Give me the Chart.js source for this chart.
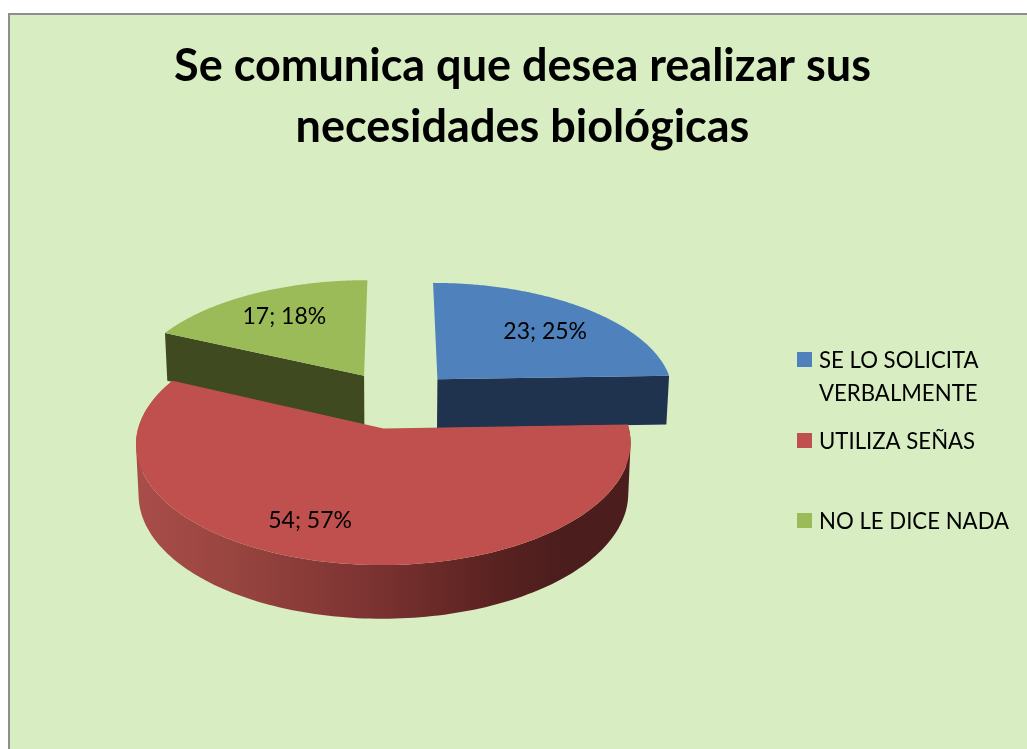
<!DOCTYPE html>
<html>
<head>
<meta charset="utf-8">
<script src="https://cdn.jsdelivr.net/npm/chart.js@4"></script>
<style>
html,body{margin:0;padding:0;background:#fff;width:1027px;height:749px;overflow:hidden}
#panel{position:absolute;left:8px;top:13px;width:1019px;height:736px;box-sizing:border-box;background:#d8edc1;border-left:2px solid #8e8e8e;border-top:2px solid #8e8e8e}
#c{position:absolute;left:0;top:0}
</style>
</head>
<body>
<div id="panel"></div>
<canvas id="c" width="1027" height="749"></canvas>
<script>
const titleLines = ["Se comunica que desea realizar sus", "necesidades biológicas"];
const categories = [["SE LO SOLICITA", "VERBALMENTE"], ["UTILIZA SEÑAS"], ["NO LE DICE NADA"]];
const values = [23, 54, 17];
const percentLabels = ["25%", "57%", "18%"];
const topColors = ["#4f81bd", "#c0504d", "#9bbb59"];
const wallColors = ["#1f324e", "#4b1d1d", "#3f4a21"];

const FONT = "Lato, Carlito, sans-serif";
// Perspective of the tilted pie plane
const view = {cx: 396, cy: 399.5, rx: 238, ry: 112.5, k: 0.12, depth: 49.5, taper: 0.99};
const legendRows = [352, 433, 513];
const legendLineY = [[361, 394], [442], [522]];
const labelTurn = [3, 9.5, 0]; // degrees
const labelRadius = [0.68, 0.75, 0.7];

function project(u, v) {
  const w = 1 + view.k * v;
  return {x: view.cx + view.rx * u / w, y: view.cy - view.ry * v / w, w};
}
function drop(p) {
  return {x: view.cx + (p.x - view.cx) * view.taper, y: p.y + view.depth / Math.sqrt(p.w)};
}
function geom(el) {
  const mid = (el.startAngle + el.endAngle) / 2;
  const e = el.options.offset / el.outerRadius;
  return {mid, ox: Math.cos(mid) * e, oy: -Math.sin(mid) * e};
}
function rimPoints(el, g) {
  const pts = [];
  const n = 160;
  for (let i = 0; i <= n; i++) {
    const a = el.startAngle + (el.endAngle - el.startAngle) * i / n;
    pts.push(project(g.ox + Math.cos(a), g.oy - Math.sin(a)));
  }
  return pts;
}
function trace(ctx, pts) {
  pts.forEach((p, i) => i ? ctx.lineTo(p.x, p.y) : ctx.moveTo(p.x, p.y));
  ctx.closePath();
}
function poly(ctx, pts, fill) {
  ctx.beginPath();
  trace(ctx, pts);
  ctx.fillStyle = fill;
  ctx.fill();
}
function area(q) {
  let s = 0;
  q.forEach((p, i) => { const n = q[(i + 1) % q.length]; s += p.x * n.y - n.x * p.y; });
  return s;
}
function redGradient(ctx) {
  const g = ctx.createLinearGradient(view.cx - 260, 0, view.cx + 260, 0);
  g.addColorStop(0, "#a94d4a");
  g.addColorStop(0.2, "#97443f");
  g.addColorStop(0.45, "#7c3331");
  g.addColorStop(0.68, "#5b2321");
  g.addColorStop(0.82, "#4b1d1d");
  g.addColorStop(1, "#4b1d1d");
  return g;
}
function drawSlice(ctx, el, i) {
  const g = geom(el);
  const rim = rimPoints(el, g);
  const apex = project(g.ox, g.oy);
  if (i === 0) {            // blue: end cut is visible
    const end = rim[rim.length - 1];
    poly(ctx, [apex, end, drop(end), drop(apex)], wallColors[0]);
  } else if (i === 2) {     // green: start cut is visible
    const st = rim[0];
    poly(ctx, [apex, st, drop(st), drop(apex)], wallColors[2]);
  } else {                  // red: outer wall is visible
    ctx.beginPath();
    for (let s = 0; s < rim.length - 1; s++) {
      const q = [rim[s], rim[s + 1], drop(rim[s + 1]), drop(rim[s])];
      if (area(q) < 0) q.reverse();   // same winding so the union fills solid
      trace(ctx, q);
    }
    ctx.fillStyle = redGradient(ctx);
    ctx.fill("nonzero");
  }
  poly(ctx, [apex].concat(rim), el.options.backgroundColor);
}

const pie3d = {
  id: "pie3d",
  beforeDatasetDraw(chart, args) {
    const ctx = chart.ctx;
    const arcs = chart.getDatasetMeta(args.index).data;
    ctx.save();
    [0, 2, 1].forEach(i => drawSlice(ctx, arcs[i], i));
    // value; percent labels
    ctx.fillStyle = "#000";
    ctx.font = "23px " + FONT;
    ctx.textAlign = "center";
    ctx.textBaseline = "middle";
    arcs.forEach((el, i) => {
      const g = geom(el);
      const a = g.mid + labelTurn[i] * Math.PI / 180;
      const r = labelRadius[i];
      const p = project(g.ox + Math.cos(a) * r, g.oy - Math.sin(a) * r);
      ctx.fillText(values[i] + "; " + percentLabels[i], p.x, p.y);
    });
    ctx.restore();
    return false;
  },
  afterDraw(chart) {
    const ctx = chart.ctx;
    ctx.save();
    ctx.font = "22.2px " + FONT;
    ctx.textBaseline = "middle";
    ctx.textAlign = "left";
    chart.data.labels.forEach((lines, i) => {
      ctx.fillStyle = topColors[i];
      ctx.fillRect(797, legendRows[i], 15, 15);
      ctx.fillStyle = "#000";
      lines.forEach((t, j) => ctx.fillText(t, 819, legendLineY[i][j]));
    });
    ctx.restore();
  }
};

new Chart(document.getElementById("c"), {
  type: "pie",
  data: {
    labels: categories,
    datasets: [{data: values, backgroundColor: topColors, borderWidth: 0, offset: 65}]
  },
  options: {
    responsive: false,
    animation: false,
    rotation: 0,
    layout: {padding: {left: 18, right: 0, top: 0, bottom: 0}},
    plugins: {
      legend: {display: false},
      tooltip: {enabled: false},
      title: {
        display: true,
        text: titleLines,
        color: "#000",
        font: {family: FONT, size: 45, weight: "bold", lineHeight: 61 / 45},
        padding: {top: 36, bottom: 18}
      }
    }
  },
  plugins: [pie3d]
});
</script>
</body>
</html>
